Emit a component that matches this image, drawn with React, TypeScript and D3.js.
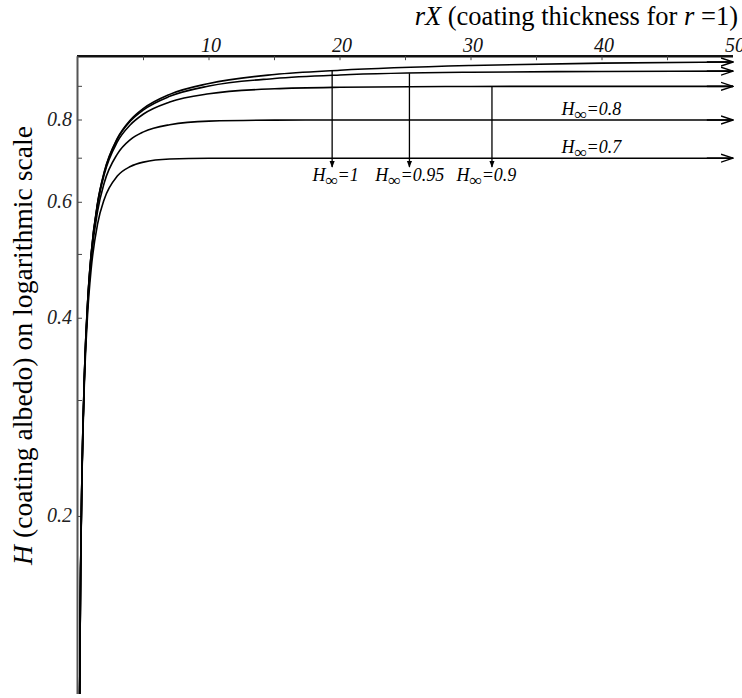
import { useEffect, useRef } from 'react'
import * as d3 from 'd3'

const WIDTH = 742
const HEIGHT = 698

// coating thickness rX
const thickness = [0.1, 0.2, 0.3, 0.5, 0.75, 1, 1.5, 2, 3, 4, 5, 7, 10, 15, 20, 30, 40, 50]

// H (coating albedo), one array per H∞
const albedo100 = [0.091, 0.167, 0.231, 0.333, 0.429, 0.5, 0.6, 0.667, 0.75, 0.8, 0.833, 0.875, 0.909, 0.938, 0.952, 0.968, 0.976, 0.98]
const albedo095 = [0.091, 0.167, 0.231, 0.333, 0.428, 0.4995, 0.599, 0.665, 0.748, 0.797, 0.829, 0.869, 0.901, 0.925, 0.9365, 0.9455, 0.948, 0.949]
const albedo090 = [0.091, 0.1665, 0.230, 0.3325, 0.427, 0.498, 0.596, 0.661, 0.741, 0.787, 0.817, 0.852, 0.877, 0.8925, 0.897, 0.8997, 0.9, 0.9]
const albedo080 = [0.091, 0.166, 0.229, 0.330, 0.422, 0.490, 0.5825, 0.642, 0.710, 0.747, 0.7675, 0.787, 0.797, 0.7997, 0.8, 0.8, 0.8, 0.8]
const albedo070 = [0.0904, 0.165, 0.227, 0.324, 0.411, 0.474, 0.557, 0.606, 0.6575, 0.680, 0.6905, 0.698, 0.6998, 0.7, 0.7, 0.7, 0.7, 0.7]

const seriesValues = [albedo100, albedo095, albedo090, albedo080, albedo070]

const xTicks = [10, 20, 30, 40, 50]
const xMinorTicks = [5, 10, 15, 20, 25, 30, 35, 40, 45]
const yTicks = [0.2, 0.4, 0.6, 0.8]
const yMinorTicks = [0.2, 0.3, 0.4, 0.5, 0.6, 0.7, 0.8, 0.9]

// vertical arrows: thickness where they leave a curve, the H there, label value, label start
const arrowLabels = ['1', '0.95', '0.9']
const arrowThickness = [19.4, 25.3, 31.6]
const arrowFromAlbedo = [0.951, 0.942, 0.9]
const arrowLabelStart = [17.9, 22.7, 28.9]
const arrowTipAlbedo = 0.679
const arrowLabelAlbedo = 0.646

// labels sitting on top of the flat curves
const lineLabels = ['0.8', '0.7']
const lineLabelAlbedo = [0.8, 0.7]
const lineLabelStart = 36.9

const FONT = 'Liberation Serif'

export default function App() {
  const svgRef = useRef<SVGSVGElement | null>(null)

  useEffect(() => {
    if (!svgRef.current) {
      return
    }

    const svg = d3.select(svgRef.current)
    svg.selectAll('*').remove()

    const x = d3.scaleLinear().domain([0, 50]).range([78, 733])
    const y = d3.scaleLog().domain([0.1075, 1]).range([694, 56.2])

    const defs = svg.append('defs')
    defs
      .append('clipPath')
      .attr('id', 'plot-clip')
      .append('rect')
      .attr('x', 78)
      .attr('y', 40)
      .attr('width', WIDTH - 78)
      .attr('height', 694 - 40)

    defs
      .append('marker')
      .attr('id', 'open-head')
      .attr('viewBox', '0 0 13 10')
      .attr('refX', 12)
      .attr('refY', 5)
      .attr('markerWidth', 13)
      .attr('markerHeight', 10)
      .attr('markerUnits', 'userSpaceOnUse')
      .attr('orient', 'auto')
      .append('path')
      .attr('d', 'M 0 1 L 12 5 L 0 9')
      .attr('fill', 'none')
      .attr('stroke', '#000')
      .attr('stroke-width', 1.4)

    defs
      .append('marker')
      .attr('id', 'solid-head')
      .attr('viewBox', '0 0 8 8')
      .attr('refX', 7)
      .attr('refY', 4)
      .attr('markerWidth', 7)
      .attr('markerHeight', 7)
      .attr('markerUnits', 'userSpaceOnUse')
      .attr('orient', 'auto')
      .append('path')
      .attr('d', 'M 0 1 L 8 4 L 0 7 z')
      .attr('fill', '#000')

    // axes
    svg
      .append('line')
      .attr('x1', x(0) - 1)
      .attr('x2', x(50))
      .attr('y1', y(1))
      .attr('y2', y(1))
      .attr('stroke', '#111')
      .attr('stroke-width', 2.4)

    svg
      .append('line')
      .attr('x1', x(0) - 0.5)
      .attr('x2', x(0) - 0.5)
      .attr('y1', y(1))
      .attr('y2', 694)
      .attr('stroke', '#555')
      .attr('stroke-width', 2)

    svg
      .selectAll('line.x-tick')
      .data(xMinorTicks)
      .enter()
      .append('line')
      .attr('class', 'x-tick')
      .attr('x1', (d: number) => x(d))
      .attr('x2', (d: number) => x(d))
      .attr('y1', y(1))
      .attr('y2', y(1) + 4)
      .attr('stroke', '#444')
      .attr('stroke-width', 1)

    svg
      .selectAll('line.y-tick')
      .data(yMinorTicks)
      .enter()
      .append('line')
      .attr('class', 'y-tick')
      .attr('x1', x(0))
      .attr('x2', x(0) + 4)
      .attr('y1', (d: number) => y(d))
      .attr('y2', (d: number) => y(d))
      .attr('stroke', '#444')
      .attr('stroke-width', 1)

    svg
      .selectAll('text.x-label')
      .data(xTicks)
      .enter()
      .append('text')
      .attr('class', 'x-label')
      .attr('x', (d: number) => x(d) + 2)
      .attr('y', 52)
      .attr('text-anchor', 'middle')
      .attr('font-family', FONT)
      .attr('font-style', 'italic')
      .attr('font-size', 20)
      .attr('fill', '#111')
      .text((d: number) => String(d))

    svg
      .selectAll('text.y-label')
      .data(yTicks)
      .enter()
      .append('text')
      .attr('class', 'y-label')
      .attr('x', 72)
      .attr('y', (d: number) => y(d) + 6)
      .attr('text-anchor', 'end')
      .attr('font-family', FONT)
      .attr('font-style', 'italic')
      .attr('font-size', 20)
      .attr('fill', '#222')
      .text((d: number) => d.toFixed(1))

    // axis titles
    const title = svg
      .append('text')
      .attr('x', 738)
      .attr('y', 25)
      .attr('text-anchor', 'end')
      .attr('font-family', FONT)
      .attr('font-size', 26.5)
      .attr('fill', '#000')
    title.append('tspan').attr('font-style', 'italic').text('rX')
    title.append('tspan').text(' (coating thickness for ')
    title.append('tspan').attr('font-style', 'italic').text('r')
    title.append('tspan').text(' =1)')

    const yTitle = svg
      .append('text')
      .attr('transform', 'translate(32, 565) rotate(-90)')
      .attr('text-anchor', 'start')
      .attr('font-family', FONT)
      .attr('font-size', 27.7)
      .attr('fill', '#000')
    yTitle.append('tspan').attr('font-style', 'italic').text('H')
    yTitle.append('tspan').text(' (coating albedo) on logarithmic scale')

    // curves
    const line = d3
      .line<number>()
      .x((_: number, i: number) => x(thickness[i]))
      .y((d: number) => y(d))
      .curve(d3.curveMonotoneX)

    svg
      .append('g')
      .attr('clip-path', 'url(#plot-clip)')
      .selectAll('path.curve')
      .data(seriesValues)
      .enter()
      .append('path')
      .attr('class', 'curve')
      .attr('d', (d: number[]) => line(d))
      .attr('fill', 'none')
      .attr('stroke', '#000')
      .attr('stroke-width', 1.6)

    // open arrowheads at the right end of each curve
    svg
      .selectAll('line.curve-end')
      .data(seriesValues)
      .enter()
      .append('line')
      .attr('class', 'curve-end')
      .attr('x1', x(48))
      .attr('x2', x(50))
      .attr('y1', (d: number[]) => y(d[d.length - 1]))
      .attr('y2', (d: number[]) => y(d[d.length - 1]))
      .attr('stroke', '#000')
      .attr('stroke-width', 1.6)
      .attr('marker-end', 'url(#open-head)')

    // vertical arrows pointing to labels
    svg
      .selectAll('line.pointer')
      .data(arrowThickness)
      .enter()
      .append('line')
      .attr('class', 'pointer')
      .attr('x1', (d: number) => x(d))
      .attr('x2', (d: number) => x(d))
      .attr('y1', (_: number, i: number) => y(arrowFromAlbedo[i]))
      .attr('y2', y(arrowTipAlbedo))
      .attr('stroke', '#000')
      .attr('stroke-width', 1.3)
      .attr('marker-end', 'url(#solid-head)')

    const addHLabel = (px: number, py: number, value: string) => {
      const t = svg
        .append('text')
        .attr('x', px)
        .attr('y', py)
        .attr('font-family', FONT)
        .attr('font-style', 'italic')
        .attr('font-size', 18)
        .attr('fill', '#000')
      t.append('tspan').text('H')
      t.append('tspan').attr('dy', 5).attr('font-size', 17).text('∞')
      t.append('tspan').attr('dy', -5).text('=' + value)
    }

    arrowLabels.forEach((label, i) => {
      addHLabel(x(arrowLabelStart[i]), y(arrowLabelAlbedo), label)
    })

    lineLabels.forEach((label, i) => {
      addHLabel(x(lineLabelStart), y(lineLabelAlbedo[i]) - 5, label)
    })
  }, [])

  return (
    <svg
      ref={svgRef}
      width={WIDTH}
      height={HEIGHT}
      style={{ position: 'absolute', left: 0, top: 0, background: '#fff' }}
      role="img"
      aria-label="Coating albedo H versus coating thickness rX on a logarithmic scale"
    />
  )
}
